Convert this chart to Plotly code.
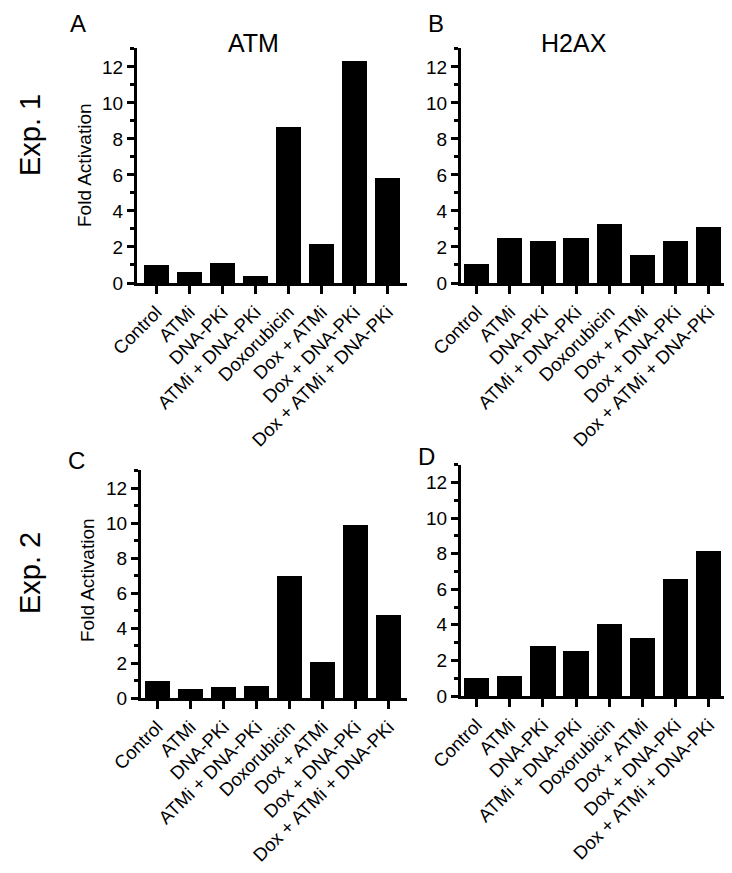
import plotly.graph_objects as go

categories = ["Control", "ATMi", "DNA-PKi", "ATMi + DNA-PKi", "Doxorubicin",
              "Dox + ATMi", "Dox + DNA-PKi", "Dox + ATMi + DNA-PKi"]
atm_exp1 = [1.0, 0.6, 1.12, 0.38, 8.65, 2.18, 12.32, 5.85]
h2ax_exp1 = [1.07, 2.52, 2.32, 2.52, 3.28, 1.56, 2.32, 3.12]
atm_exp2 = [1.0, 0.52, 0.65, 0.71, 7.0, 2.1, 9.9, 4.78]
h2ax_exp2 = [1.02, 1.12, 2.8, 2.55, 4.07, 3.25, 6.6, 8.18]
panel_titles = ["ATM", "H2AX"]
panel_letters = ["A", "B", "C", "D"]
row_labels = ["Exp. 1", "Exp. 2"]
ytitle = "Fold Activation"
ytickvals = [0, 2, 4, 6, 8, 10, 12]

W, H = 732, 873
FONT = "Liberation Sans, Arial, Helvetica, sans-serif"

def px(x):
    return x / W

def py(y):
    return 1 - y / H

# (xaxis pixel left/right, x range, y pixel zero/top, y range top)
panels = [
    (atm_exp1, (129, 399), (-0.59, 7.59), (275, 40), 13.05),
    (h2ax_exp1, (453, 719), (-0.47, 7.55), (275, 40), 13.05),
    (atm_exp2, (133, 399), (-0.50, 7.56), (690, 461.7), 13.05),
    (h2ax_exp2, (453, 719), (-0.47, 7.55), (688, 456.7), 13.0),
]

fig = go.Figure()
layout = {}
for i, (vals, (xl, xr), xrng, (y0, yt), ytop) in enumerate(panels):
    n = "" if i == 0 else str(i + 1)
    fig.add_trace(go.Bar(
        x=list(range(len(categories))), y=vals,
        xaxis="x" + n, yaxis="y" + n,
        marker=dict(color="black", line=dict(width=0)),
        width=0.76, showlegend=False,
    ))
    layout["xaxis" + n] = dict(
        domain=[px(xl), px(xr)], range=list(xrng), anchor="y" + n,
        tickmode="array", tickvals=list(range(len(categories))), ticktext=categories,
        tickangle=-45, ticks="outside", ticklen=8, tickwidth=3, tickcolor="black",
        showline=True, linewidth=3, linecolor="black", showgrid=False, zeroline=False,
        tickfont=dict(family=FONT, size=18.5, color="black"), fixedrange=True,
        automargin=False,
    )
    layout["yaxis" + n] = dict(
        domain=[py(y0), py(yt)], range=[0, ytop], anchor="x" + n,
        tickmode="array", tickvals=ytickvals,
        ticks="outside", ticklen=7, tickwidth=3, tickcolor="black",
        minor=dict(dtick=1, tick0=0, ticks="outside", ticklen=4, tickwidth=2.5,
                   tickcolor="black", showgrid=False),
        showline=True, linewidth=3, linecolor="black", showgrid=False, zeroline=False,
        tickfont=dict(family=FONT, size=19, color="black"), fixedrange=True,
        automargin=False,
    )

annotations = []
def ann(text, x, y, size, angle=0):
    annotations.append(dict(text=text, x=px(x), y=py(y), xref="paper", yref="paper",
                            showarrow=False, textangle=angle, xanchor="center",
                            yanchor="middle",
                            font=dict(family=FONT, size=size, color="black")))

ann(panel_letters[0], 70, 15, 24)
ann(panel_letters[1], 428, 15, 24)
ann(panel_letters[2], 68, 452, 24)
ann(panel_letters[3], 418, 449, 24)
ann(panel_titles[0], 245, 35, 25)
ann(panel_titles[1], 566, 35, 25)
ann(row_labels[0], 22, 127, 29, -90)
ann(row_labels[1], 22, 565, 29, -90)
ann(ytitle, 76, 157, 19, -90)
ann(ytitle, 79, 572, 19, -90)

fig.update_layout(
    template="none",
    width=W, height=H, margin=dict(l=0, r=0, t=0, b=0, autoexpand=False),
    paper_bgcolor="white", plot_bgcolor="white",
    annotations=annotations, bargap=0, showlegend=False,
    font=dict(family=FONT, color="black"),
    **layout,
)
fig.write_html("out.html", config={"displayModeBar": False})
